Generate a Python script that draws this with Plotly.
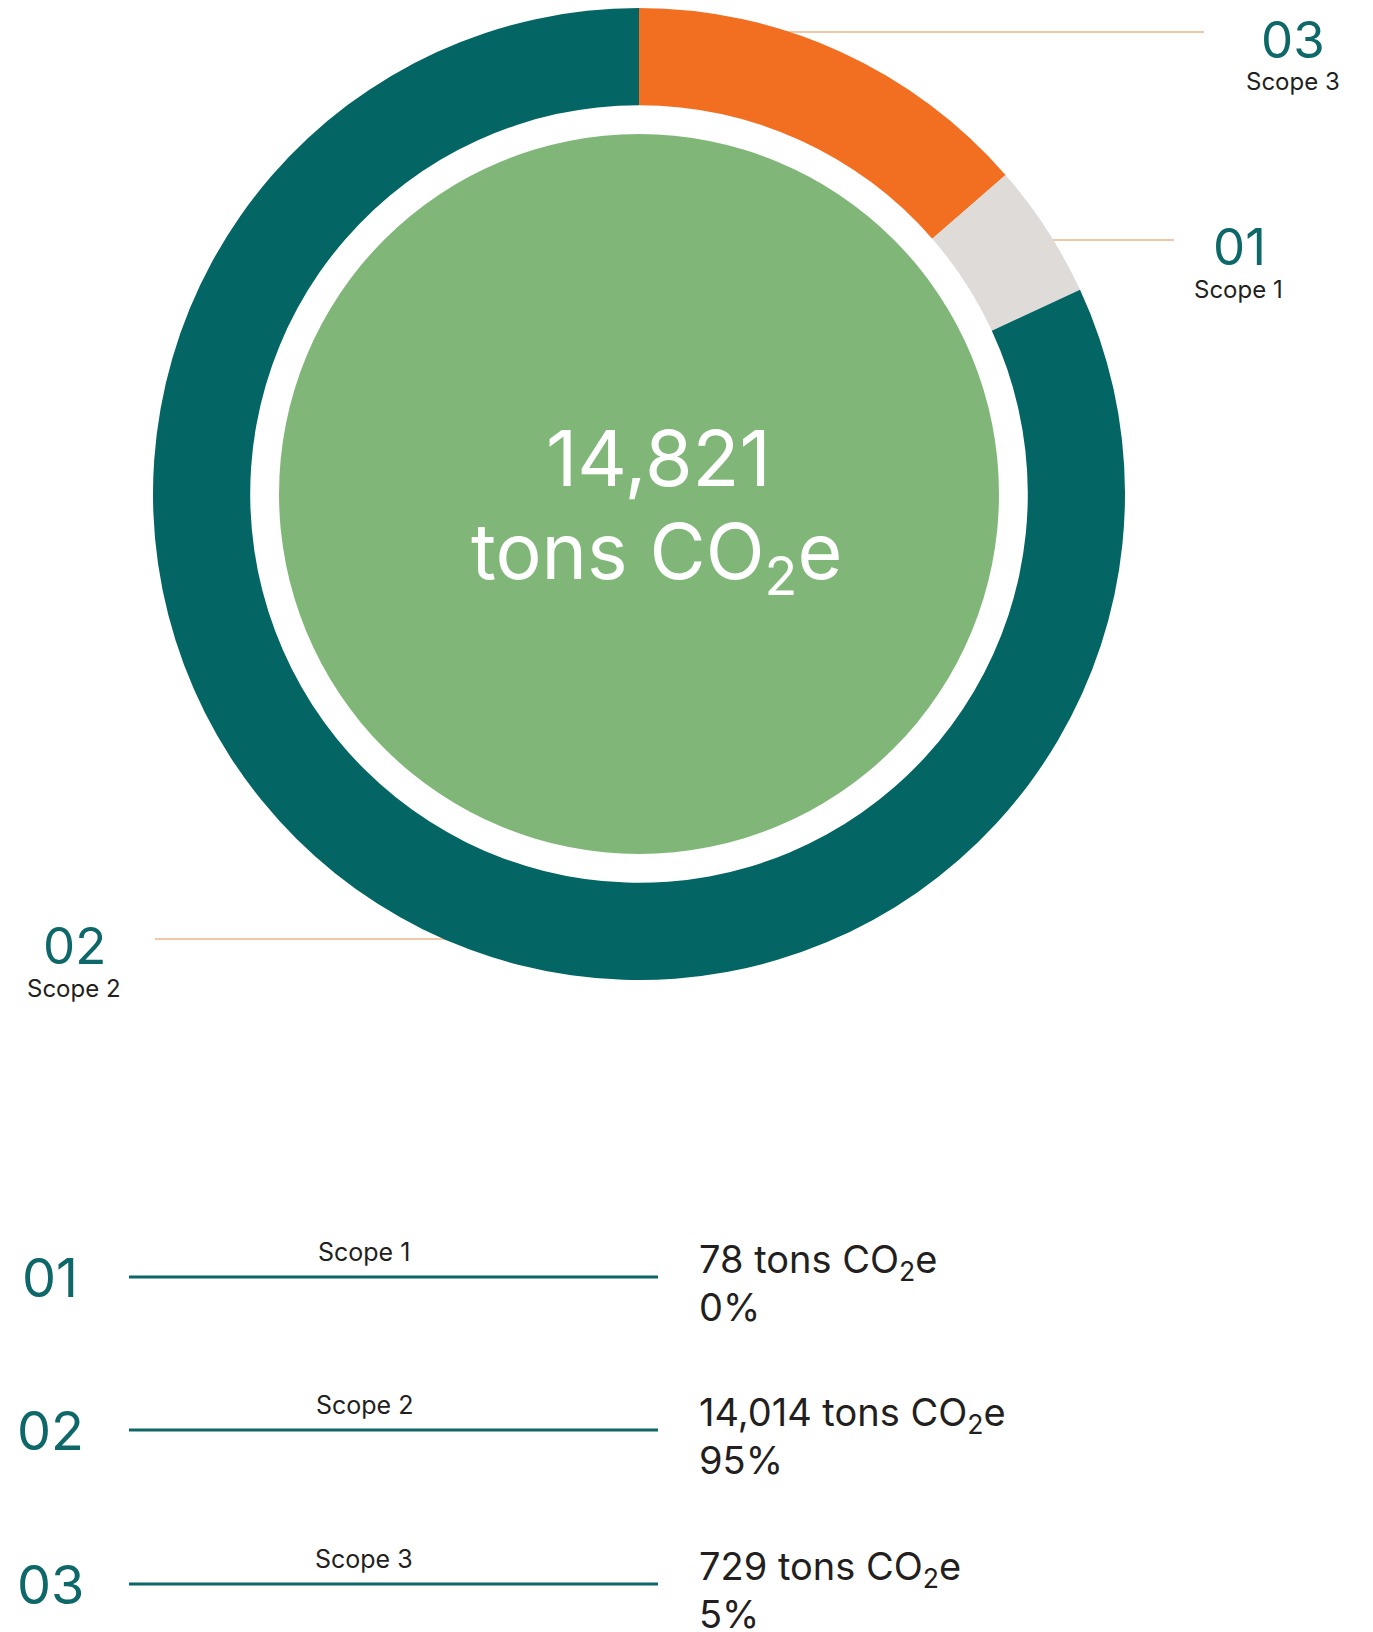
import plotly.graph_objects as go

# ---------------- data ----------------
scope_ids = ["01", "02", "03"]
scope_names = ["Scope 1", "Scope 2", "Scope 3"]
scope_tons = [78, 14014, 729]
scope_pct = [0, 95, 5]
total_tons = 14821

# ring segments as drawn in the reference (share of the circle)
ring_labels = ["Scope 3", "Scope 1", "Scope 2"]
ring_share = [13.6, 4.5, 81.9]
ring_colors = ["#F26F21", "#DEDBD8", "#036564"]

# ---------------- style ----------------
W, H = 1373, 1632
OFF = 8  # page body margin
FONT = "Inter"
TEAL_TXT = "#0E6869"
DARK = "#231F20"
LEADER = "#EBB58C"

cx, cy, R = 639, 494, 486
fig = go.Figure()

fig.add_trace(go.Pie(
    labels=ring_labels, values=ring_share, sort=False, direction="clockwise",
    rotation=0, hole=0.80, marker=dict(colors=ring_colors, line=dict(width=0)),
    textinfo="none", hoverinfo="label", showlegend=False,
    domain=dict(x=[(cx - R - OFF) / W, (cx + R - OFF) / W],
                y=[1 - (cy + R - OFF) / H, 1 - (cy - R - OFF) / H]),
))

# inner green disc
r_in = 360
shapes = [dict(type="circle", xref="x", yref="y", x0=cx - r_in, x1=cx + r_in,
               y0=cy - r_in, y1=cy + r_in, fillcolor="#80B779", line=dict(width=0),
               layer="below")]

annotations = []
# center text
annotations.append(dict(x=658, y=458, text=f"{total_tons:,}", showarrow=False,
                        font=dict(family=FONT, size=77, color="white"),
                        xanchor="center", yanchor="middle"))
annotations.append(dict(x=656, y=556, text="tons CO<sub>2</sub>e", showarrow=False,
                        font=dict(family=FONT, size=77, color="white"),
                        xanchor="center", yanchor="middle"))

# leader lines + callout labels around the ring
callouts = {
    "Scope 3": dict(line=(781, 1204, 32), num=(1293, 39), name=(1293, 81)),
    "Scope 1": dict(line=(1053, 1174, 240), num=(1239, 246), name=(1238, 289)),
    "Scope 2": dict(line=(155, 448, 939), num=(74, 945), name=(74, 988)),
}
for sid, nm in zip(scope_ids, scope_names):
    c = callouts[nm]
    x0, x1, yl = c["line"]
    shapes.append(dict(type="line", xref="x", yref="y", x0=x0, x1=x1, y0=yl, y1=yl,
                       line=dict(color=LEADER, width=1.5), layer="below"))
    annotations.append(dict(x=c["num"][0], y=c["num"][1], text=sid, showarrow=False,
                            font=dict(family=FONT, size=51, color=TEAL_TXT),
                            xanchor="center", yanchor="middle"))
    annotations.append(dict(x=c["name"][0], y=c["name"][1], text=nm, showarrow=False,
                            font=dict(family=FONT, size=24, color=DARK),
                            xanchor="center", yanchor="middle"))

# bottom table
row_y = [1277, 1430, 1584]
for sid, nm, t, p, yy in zip(scope_ids, scope_names, scope_tons, scope_pct, row_y):
    annotations.append(dict(x=50, y=yy, text=sid, showarrow=False,
                            font=dict(family=FONT, size=54, color=TEAL_TXT),
                            xanchor="center", yanchor="middle"))
    shapes.append(dict(type="line", xref="x", yref="y", x0=129, x1=658, y0=yy, y1=yy,
                       line=dict(color="#0E6767", width=3)))
    annotations.append(dict(x=364, y=yy - 25, text=nm, showarrow=False,
                            font=dict(family=FONT, size=25, color=DARK),
                            xanchor="center", yanchor="middle"))
    annotations.append(dict(x=697, y=yy - 16, text=f"{t:,} tons CO<sub>2</sub>e", showarrow=False,
                            font=dict(family=FONT, size=38, color=DARK),
                            xanchor="left", yanchor="middle"))
    annotations.append(dict(x=697, y=yy + 30, text=f"{p}%", showarrow=False,
                            font=dict(family=FONT, size=38, color=DARK),
                            xanchor="left", yanchor="middle"))

fig.update_layout(
    width=W, height=H, margin=dict(l=0, r=0, t=0, b=0),
    paper_bgcolor="white", plot_bgcolor="white",
    xaxis=dict(range=[OFF, W + OFF], visible=False, fixedrange=True, domain=[0, 1]),
    yaxis=dict(range=[H + OFF, OFF], visible=False, fixedrange=True, domain=[0, 1]),
    shapes=shapes, annotations=annotations,
)
fig.write_html("out.html")
